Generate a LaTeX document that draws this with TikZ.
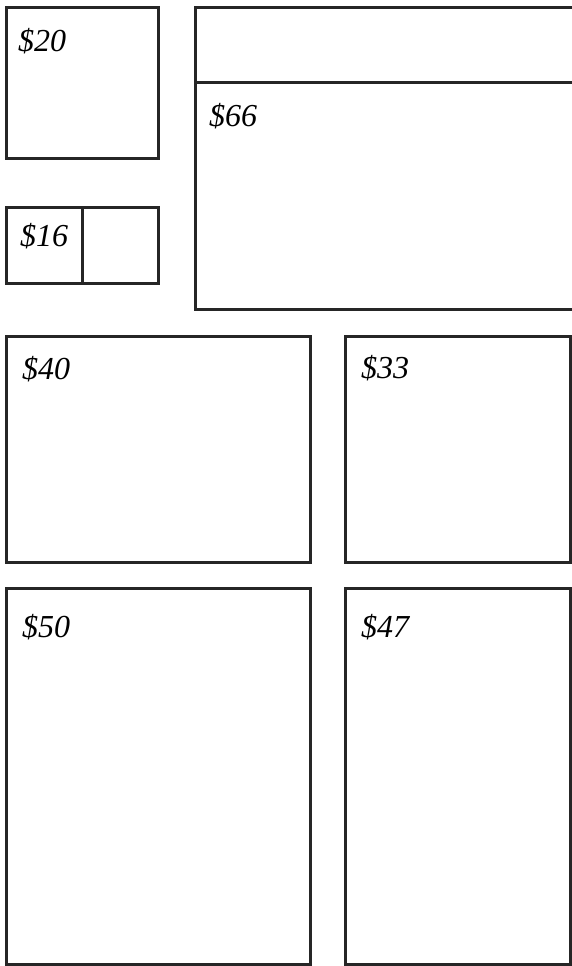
\documentclass[tikz,border=0pt]{standalone}
\usepackage{fontspec}
\setmainfont{Liberation Serif}
\tikzset{
  bx/.style={draw=black!85, line width=3pt},
  price/.style={anchor=base west, inner sep=0pt, font=\fontsize{32}{38}\selectfont\itshape}
}
\begin{document}
\begin{tikzpicture}[x=1pt, y=-1pt]
        \useasboundingbox (0,0) rectangle (571,966);
        % Boxes
        \draw[bx] (6,8) rectangle (158,158);
        \draw[bx] (6,207) rectangle (158,283);
        \draw[bx] (82,207) -- (82,283);
        \draw[bx] (195,8) rectangle (575,309);
        \draw[bx] (195,82) -- (575,82);
        \draw[bx] (6,336) rectangle (310,562);
        \draw[bx] (345,336) rectangle (570,562);
        \draw[bx] (6,588) rectangle (310,964);
        \draw[bx] (345,588) rectangle (570,964);

        % Prices
        \node[price] (p20) at (18,52) {\$20};
        \node[price] (p16) at (20,246) {\$16};
        \node[price] (p66) at (209,126) {\$66};
        \node[price] (p40) at (22,379) {\$40};
        \node[price] (p33) at (361,378) {\$33};
        \node[price] (p50) at (22,637) {\$50};
        \node[price] (p47) at (361,637) {\$47};
    \end{tikzpicture}
\end{document}
